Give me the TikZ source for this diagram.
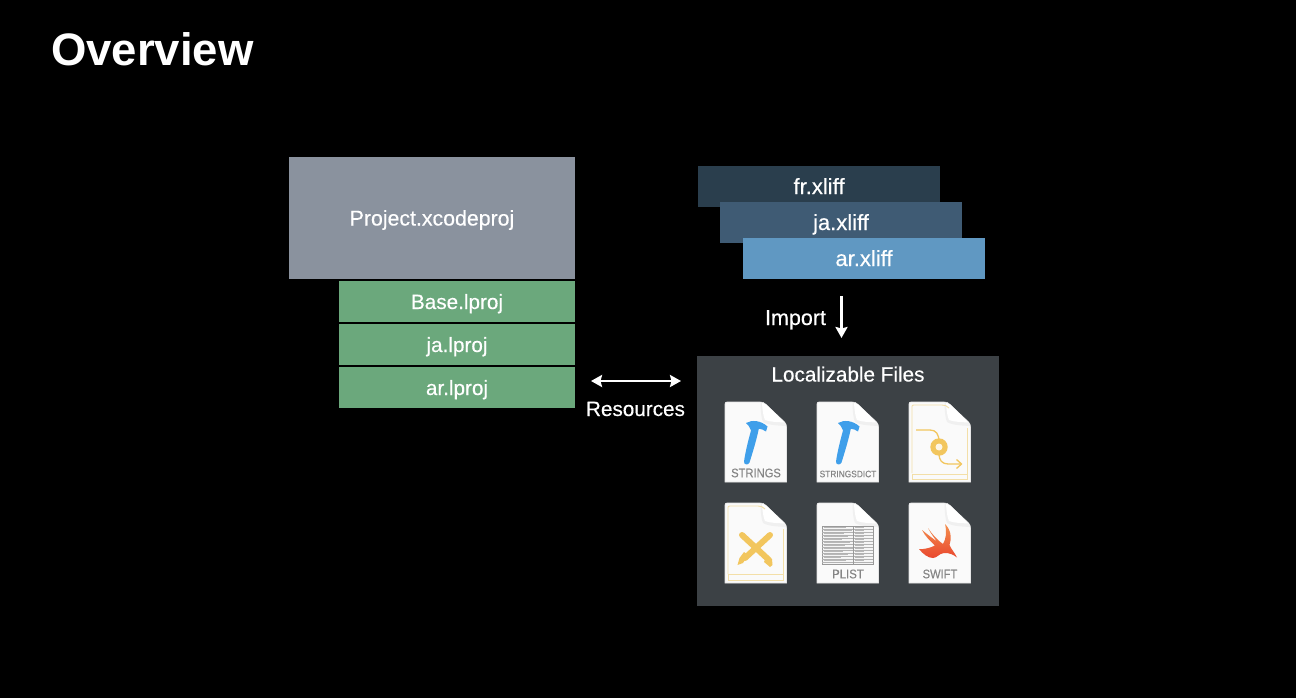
\documentclass[tikz,border=0pt]{standalone}
\usepackage{fontspec}
\setmainfont{Liberation Sans}
\newfontfamily\medfont[FakeBold=0.35]{Liberation Sans}
\newfontfamily\tagfont[FakeStretch=0.9,FakeBold=0.25]{Liberation Sans}
\usetikzlibrary{arrows.meta}
\definecolor{projgray}{HTML}{8A929E}
\definecolor{lprojgreen}{HTML}{6BA87C}
\definecolor{frblue}{HTML}{2A3E4D}
\definecolor{jablue}{HTML}{3F5B74}
\definecolor{arblue}{HTML}{6098C2}
\definecolor{panelgray}{HTML}{3C4145}
\definecolor{hammerblue}{HTML}{3F9FEA}
\definecolor{ibgold}{HTML}{F2C65E}
\definecolor{iblight}{HTML}{F3DFA8}
\definecolor{labelgray}{HTML}{858585}
\definecolor{swifttop}{HTML}{F4924F}
\definecolor{swiftlow}{HTML}{E8412C}
\newcommand{\fsz}[1]{\fontsize{#1}{#1}\selectfont}
\newcommand{\pageshape}{(0,2) .. controls (0,0.6) and (0.6,0) .. (2,0) -- (35,0) .. controls (38,0) and (39,0.6) .. (41,2.5) -- (59.5,20) .. controls (61,21.5) and (61.5,23) .. (61.5,25) -- (61.5,80) -- (0,80) -- cycle}
\tikzset{
  x=1pt,y=-1pt,
  box/.style={draw=none,text=white,inner sep=0pt,text height=15pt,text depth=0pt,font=\medfont\fsz{20.7}},
  caption/.style={text=white,inner sep=0pt,text height=15pt,text depth=0pt,font=\medfont\fsz{20.7}},
  flow/.style={draw=white,line width=2.4pt,-{Stealth[length=11pt,width=12pt,inset=1.5pt]}},
  flowboth/.style={draw=white,line width=2.4pt,{Stealth[length=11pt,width=12pt,inset=1.5pt]}-{Stealth[length=11pt,width=12pt,inset=1.5pt]}},
  filetag/.style={text=labelgray,inner sep=0pt},
  page/.style={fill=white!98!black,draw=black!10,line width=0.6pt},
  hammer/.style={fill=hammerblue,draw=none},
  ibframe/.style={draw=iblight,line width=0.9pt,fill=none},
  ibstroke/.style={draw=ibgold,line width=1.3pt,fill=none},
}
\newcommand{\filepage}{%
  \path[page] \pageshape;
  \path[fill=black!6] (35.5,0.5) .. controls (35.5,8) and (36.5,17) .. (38,20) .. controls (44,23.5) and (54,23.5) .. (61,24) -- (59.5,20) -- (41,2.5) -- cycle;
  \path[fill=white] (37,0.8) .. controls (37.5,9) and (38.5,15) .. (40,18) .. controls (45,20) and (52,20) .. (59.5,20.5) -- (41,2.5) -- cycle;
}
\newcommand{\hammershape}{%
  \path[hammer] (21,21) .. controls (27,17.5) and (36,18.5) .. (42.5,24.5) -- (41,29.5) .. controls (38.5,27.5) and (36,27) .. (33.8,26.8) .. controls (31.5,38) and (27.5,51) .. (24.5,60.5) .. controls (23.3,63.5) and (18.7,63) .. (19,59.5) .. controls (20.7,48) and (23.7,37) .. (26,28.5) .. controls (25,25.5) and (23.5,23) .. (21,21) -- cycle;
}
\begin{document}
\begin{tikzpicture}
\useasboundingbox (0,0) rectangle (1296,698);
\fill[black] (0,0) rectangle (1296,698);

\node[anchor=west,text=white,inner sep=0pt,font=\fsz{45.5}\bfseries] (title) at (51,49) {Overview};

\node[box,fill=projgray,minimum width=286pt,minimum height=122pt,font=\medfont\fsz{21.3}] (project) at (432,218) {Project.xcodeproj};
\node[box,fill=lprojgreen,minimum width=236pt,minimum height=41pt] (base) at (457,301.5) {Base.lproj};
\node[box,fill=lprojgreen,minimum width=236pt,minimum height=41pt] (jal) at (457,344.5) {ja.lproj};
\node[box,fill=lprojgreen,minimum width=236pt,minimum height=41pt] (arl) at (457,387.5) {ar.lproj};

\node[box,fill=frblue,minimum width=242pt,minimum height=41pt,font=\medfont\fsz{22}] (fr) at (819,186.5) {fr.xliff};
\node[box,fill=jablue,minimum width=242pt,minimum height=41pt,font=\medfont\fsz{22}] (ja) at (841,222.5) {ja.xliff};
\node[box,fill=arblue,minimum width=242pt,minimum height=41pt,font=\medfont\fsz{22}] (ar) at (864,258.5) {ar.xliff};

\coordinate (importtop) at (841.5,296);
\coordinate (importend) at (841.5,338);
\draw[flow] (importtop) -- (importend);
\node[caption,font=\medfont\fsz{21.5}] (import) at (795.5,317.5) {Import};

\coordinate (resleft) at (591,381);
\coordinate (resright) at (681,381);
\draw[flowboth] (resleft) -- (resright);
\node[caption] (resources) at (635.5,408.5) {Resources};

\node[fill=panelgray,minimum width=302pt,minimum height=250pt,inner sep=0pt] (panel) at (848,481) {};
\node[caption] (panelcap) at (848,374) {Localizable Files};

% STRINGS
\begin{scope}[shift={(725,402)}]
  \filepage
  \hammershape
  \node[filetag,font=\tagfont\fsz{12.4}] (tagstrings) at (31,71) {STRINGS};
\end{scope}
% STRINGSDICT
\begin{scope}[shift={(817,402)}]
  \filepage
  \hammershape
  \node[filetag,font=\tagfont\fsz{9.3}] (tagdict) at (31,72) {STRINGSDICT};
\end{scope}
% storyboard
\begin{scope}[shift={(909,402)}]
  \filepage
  \path[ibframe] (3,71) -- (3,4.5) .. controls (3,3.5) and (3.5,3) .. (5,3) -- (33,3) .. controls (36,3) and (38,4) .. (40,6);
  \path[ibframe] (58.5,26) -- (58.5,77) -- (3,77) -- (3,72) -- (58.5,72);
  \path[ibstroke] (7,28) -- (21,28) .. controls (27,28) and (30,32) .. (30,40) -- (30,52) .. controls (30,58) and (33,62) .. (39,62) -- (52,62);
  \path[ibstroke] (47.5,57.5) -- (52.5,62) -- (47.5,66.5);
  \path[fill=ibgold] (30,45) circle (8.7);
  \path[fill=white!85!ibgold] (30,45) circle (3.5);
\end{scope}
% xib
\begin{scope}[shift={(725,503)}]
  \filepage
  \path[ibframe] (3,71) -- (3,4.5) .. controls (3,3.5) and (3.5,3) .. (5,3) -- (33,3) .. controls (36,3) and (38,4) .. (40,6);
  \path[ibframe] (58.5,26) -- (58.5,77) -- (3,77) -- (3,71) -- (58.5,71);
  \path[draw=ibgold,line width=6pt,line cap=round] (17,32) -- (44,57);
  \path[draw=ibgold,line width=6pt,line cap=round] (45,32) -- (20,55);
  \path[fill=ibgold] (23,52) -- (18,60) -- (12.5,62) -- (14.5,55) -- (19,49) -- cycle;
  \path[fill=ibgold] (41,54) -- (47,56) -- (47.5,62) -- (45,64) -- (39,59) -- cycle;
\end{scope}
% plist
\begin{scope}[shift={(817,503)}]
  \filepage
  \path[fill=black!4,draw=black!40,line width=0.4pt] (5,23) rectangle (56,61);
  \foreach \yy/\len in {26/22,29/28,32/20,35/24,38/18,41/26,44/21,47/30,50/19,53/24,56/17,59/22}{
    \path[draw=black!30,line width=0.35pt] (5,\yy) -- (56,\yy);
    \path[draw=black!28,line width=0.9pt] (6.5,\yy-1.5) -- (6.5+\len,\yy-1.5);
    \path[draw=black!28,line width=0.9pt] (38,\yy-1.5) -- (47,\yy-1.5);
  }
  \path[draw=black!40,line width=0.4pt] (36,23) -- (36,61);
  \node[filetag,font=\tagfont\fsz{12.6}] (tagplist) at (31,71) {PLIST};
\end{scope}
% swift
\begin{scope}[shift={(909,503)}]
  \filepage
  \begin{scope}
    \clip (10,46) .. controls (14,51) and (19,55) .. (24,55) .. controls (28,55) and (30,50.5) .. (35,50) .. controls (40,49.5) and (45,52) .. (48,54.5) .. controls (46,50) and (42,46) .. (40.5,42) .. controls (43,35) and (42,27) .. (36,21) .. controls (38,29) and (37,36) .. (34,41) .. controls (28,37) and (23,31) .. (19,25) .. controls (22,31) and (26,36) .. (28,38.5) .. controls (23,35) and (18,31) .. (13,27) .. controls (16,33) and (21,38) .. (26,42.5) .. controls (21,45) and (15,46.5) .. (10,46) -- cycle;
    \shade[top color=swifttop,bottom color=swiftlow] (5,20) rectangle (55,58);
  \end{scope}
  \node[filetag,font=\tagfont\fsz{12.4}] (tagswift) at (31,71) {SWIFT};
\end{scope}
\end{tikzpicture}
\end{document}
